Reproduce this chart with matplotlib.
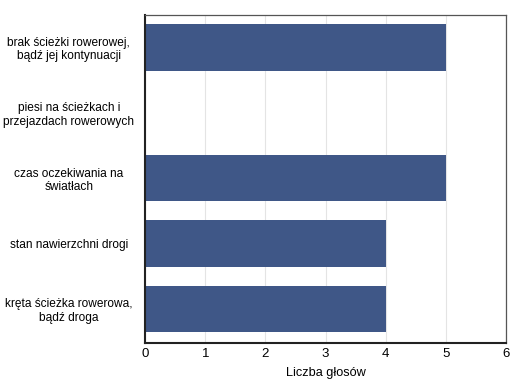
import matplotlib
matplotlib.use('Agg')
import matplotlib.pyplot as plt

plt.rcParams['font.family'] = ['Liberation Sans', 'DejaVu Sans']

categories = ['brak ścieżki rowerowej,\nbądź jej kontynuacji',
              'piesi na ścieżkach i\nprzejazdach rowerowych',
              'czas oczekiwania na\nświatłach',
              'stan nawierzchni drogi',
              'kręta ścieżka rowerowa,\nbądź droga']
votes = [5, 0, 5, 4, 4]
xticks = [0, 1, 2, 3, 4, 5, 6]

fig = plt.figure(figsize=(5.11, 3.84), dpi=100)
ax = fig.add_axes([0.284, 0.107, 0.706, 0.854])

pos = list(range(len(categories)))
ax.barh(pos, votes, height=0.71, color='#3f5787', zorder=2)
ax.set_yticks(pos)
ax.set_yticklabels(categories, fontsize=8.6, ha='center', linespacing=1.15)
ax.tick_params(axis='y', length=0, pad=55)
ax.set_ylim(len(categories) - 0.48, -0.5)

ax.set_xlim(0, 6)
ax.set_xticks(xticks)
ax.tick_params(axis='x', length=0, labelsize=9.5, pad=4)
ax.grid(axis='x', color='#e4e4e4', linewidth=0.8, zorder=0)
ax.set_xlabel('Liczba głosów', fontsize=9.2, labelpad=5)

for side in ['left', 'bottom']:
    ax.spines[side].set_color('#222222')
    ax.spines[side].set_linewidth(1.5)
for side in ['top', 'right']:
    ax.spines[side].set_color('#555555')
    ax.spines[side].set_linewidth(0.9)

fig.savefig('out.png', dpi=100)
